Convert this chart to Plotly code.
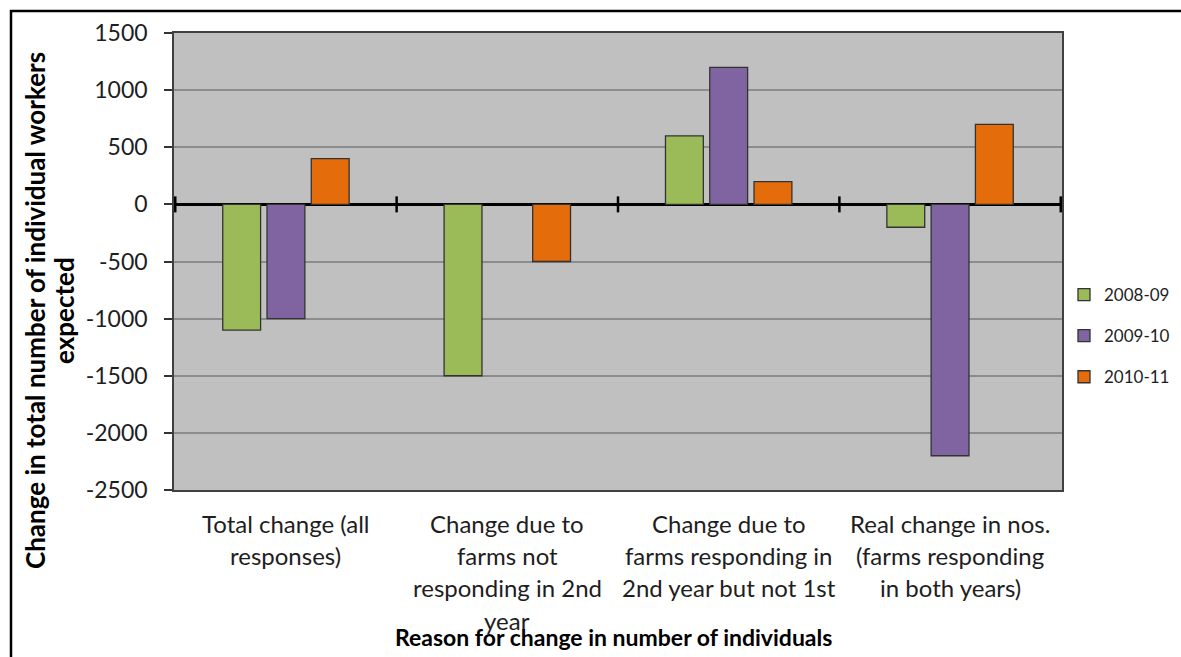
import plotly.graph_objects as go

# Reason categories (each label split into its display lines)
categories = [
    "Total change (all responses)",
    "Change due to farms not responding in 2nd year",
    "Change due to farms responding in 2nd year but not 1st",
    "Real change in nos. (farms responding in both years)",
]
category_lines = [
    ["Total change (all", "responses)"],
    ["Change due to", "farms not", "responding in 2nd", "year"],
    ["Change due to", "farms responding in", "2nd year but not 1st"],
    ["Real change in nos.", "(farms responding", "in both years)"],
]

# Change in number of workers per season
series_names = ["2008-09", "2009-10", "2010-11"]
values_2008_09 = [-1100, -1500, 600, -200]
values_2009_10 = [-1000, None, 1200, -2200]
values_2010_11 = [400, -500, 200, 700]
series_values = [values_2008_09, values_2009_10, values_2010_11]

y_ticks = [1500, 1000, 500, 0, -500, -1000, -1500, -2000, -2500]

x_title = "Reason for change in number of individuals"
y_title_lines = ["Change in total number of individual workers", "expected"]

colors = ["#9bbb59", "#8064a2", "#e46c0a"]
FONT = "Lato"
TEXT = "#1e1e1e"

# plot area geometry in pixels
W, H = 1181, 657
L, R, T, B = 174, 119, 33, 167
pw, ph = W - L - R, H - T - B


def px_x(px):
    return (px - L) / pw


def px_y(py):
    return (H - B - py) / ph


fig = go.Figure()
for name, vals, col in zip(series_names, series_values, colors):
    fig.add_trace(go.Bar(
        name=name, x=categories, y=vals, legendgroup=name,
        marker=dict(color=col, line=dict(color="#333333", width=1.3)),
    ))

y_min, y_max = min(y_ticks), max(y_ticks)

shapes = []
# outer chart frame
shapes.append(dict(type="rect", xref="paper", yref="paper",
                   x0=px_x(11), x1=px_x(W + 20), y0=px_y(H + 20), y1=px_y(11),
                   line=dict(color="black", width=2.5), fillcolor="rgba(0,0,0,0)",
                   layer="below"))
# category boundary tick marks crossing the zero axis
for i in range(len(categories) + 1):
    shapes.append(dict(type="line", xref="x", yref="y", ysizemode="pixel",
                       yanchor=0, x0=i - 0.5, x1=i - 0.5, y0=-8, y1=8,
                       line=dict(color="black", width=2.5)))

annotations = []
# category labels below the plot area
line_y = [523, 555, 587, 620]
for cat, lines in zip(categories, category_lines):
    for j, txt in enumerate(lines):
        annotations.append(dict(
            x=cat, xref="x", y=px_y(line_y[j]), yref="paper",
            text=txt, showarrow=False, xanchor="center", yanchor="middle",
            font=dict(family=FONT, size=24, color=TEXT)))

annotations.append(dict(
    x=px_x(613), xref="paper", y=px_y(637), yref="paper",
    text=f"<b>{x_title}</b>", showarrow=False,
    xanchor="center", yanchor="middle",
    font=dict(family=FONT, size=23, color="black")))

# rotated y-axis title, one annotation per line
for txt, cx in zip(y_title_lines, [35, 64]):
    annotations.append(dict(
        x=px_x(cx), xref="paper", y=px_y(311), yref="paper",
        text=f"<b>{txt}</b>", showarrow=False, textangle=-90,
        xanchor="center", yanchor="middle",
        font=dict(family=FONT, size=26, color="black")))

fig.update_layout(
    width=W, height=H,
    margin=dict(l=L, r=R, t=T, b=B, pad=0, autoexpand=False),
    paper_bgcolor="white", plot_bgcolor="#c0c0c0",
    barmode="group", bargap=0.40, bargroupgap=0.145,
    font=dict(family=FONT, color=TEXT),
    showlegend=True,
    legend=dict(x=px_x(1064), xanchor="left", y=px_y(336), yanchor="middle",
                traceorder="grouped", tracegroupgap=16,
                font=dict(family=FONT, size=17, color=TEXT),
                bgcolor="rgba(0,0,0,0)"),
    xaxis=dict(type="category", showticklabels=False, ticks="",
               showgrid=False, showline=True, mirror=True,
               linecolor="#404040", linewidth=1.5, zeroline=False),
    yaxis=dict(range=[y_min, y_max], tickvals=y_ticks,
               ticktext=[str(v) for v in y_ticks],
               ticks="outside", ticklen=8, tickwidth=1.5, tickcolor="#333333",
               tickfont=dict(family=FONT, size=23, color=TEXT),
               ticklabelstandoff=12,
               showgrid=True, gridcolor="#8c8c8c", gridwidth=1.5,
               showline=True, mirror=True, linecolor="#404040", linewidth=1.5,
               zeroline=True, zerolinecolor="black", zerolinewidth=2.5),
    shapes=shapes, annotations=annotations,
)

fig.write_html("out.html")
